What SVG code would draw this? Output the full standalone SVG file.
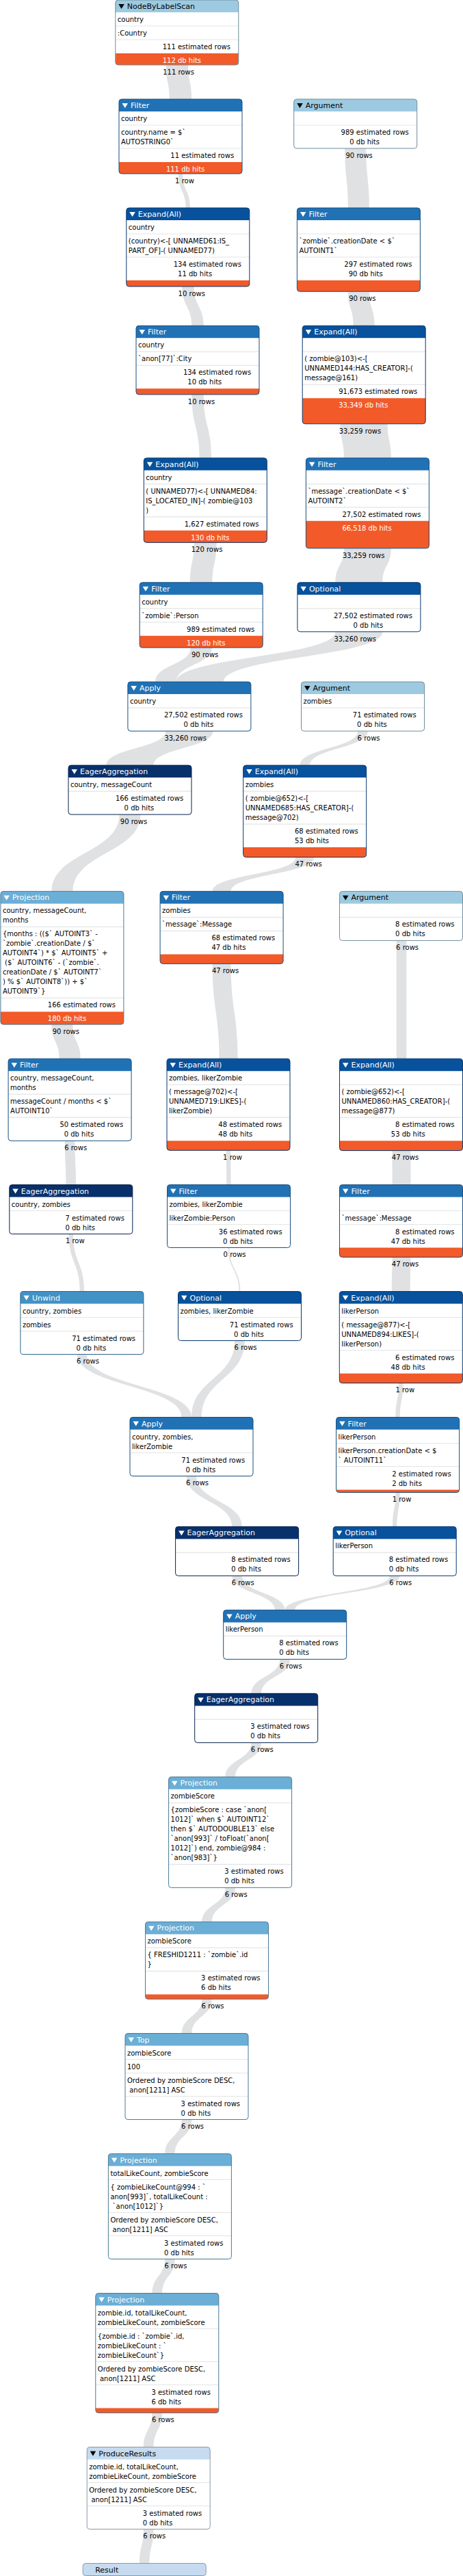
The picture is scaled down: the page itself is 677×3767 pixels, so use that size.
<svg xmlns="http://www.w3.org/2000/svg" width="677" height="3767" viewBox="0 0 677 3767">
<style>
text{font-family:"DejaVu Sans","Liberation Sans",sans-serif}
.t{font-size:10px;fill:#000}
.t.w{fill:#fff}
.ht{font-size:11px;fill:#fff}
.tr{fill:#fff}
.bg{fill:#fff}
.ol{fill:none;stroke-width:1}
.dv{stroke:#e4e5e6;stroke-width:1.2;fill:none}
.bar{fill:#f25a29}
.lk{fill:#dfe1e3}
.lb{font-size:10px;fill:#000}
.c1 .hd{fill:#c6dbef}.c1 .ol{stroke:#8a99a7}.c1 .ht,.c1 .tr{fill:#000}
.c2 .hd{fill:#9ecae1}.c2 .ol{stroke:#6e8d9d}.c2 .ht,.c2 .tr{fill:#000}
.c3 .hd{fill:#6baed6}.c3 .ol{stroke:#4b7a96}
.c4 .hd{fill:#4292c6}.c4 .ol{stroke:#2e668a}
.c5 .hd{fill:#2171b5}.c5 .ol{stroke:#174f7f}
.c6 .hd{fill:#08519c}.c6 .ol{stroke:#05386d}
.c7 .hd{fill:#08306b}.c7 .ol{stroke:#06214b}
</style>
<defs>
<path id="hdr" d="M0,18V4A4,4 0 0 1 4,0H176A4,4 0 0 1 180,4V18Z"/>
<path id="tri" d="M4.5,6H13L8.75,13Z"/>
</defs>
<g id="connectors">
<path class="lk" d="M242.6,95C242.6,120 247.8,120 247.8,145H280.2C280.2,120 275,120 275,95Z"/>
<path class="lk" d="M260.8,254C260.8,279 271.6,279 271.6,304H278C278,279 267.2,279 267.2,254Z"/>
<path class="lk" d="M504.2,217C504.2,260.5 508.9,260.5 508.9,304H539.9C539.9,260.5 535.2,260.5 535.2,217Z"/>
<path class="lk" d="M266.1,419C266.1,447.7 280.3,447.7 280.3,476.3H297.7C297.7,447.7 283.5,447.7 283.5,419Z"/>
<path class="lk" d="M508.9,426.3C508.9,451.3 516.7,451.3 516.7,476.3H547.7C547.7,451.3 539.9,451.3 539.9,426.3Z"/>
<path class="lk" d="M280.3,576.9C280.3,623.4 291.6,623.4 291.6,669.8H309C309,623.4 297.7,623.4 297.7,576.9Z"/>
<path class="lk" d="M497.7,619.8C497.7,644.8 502.9,644.8 502.9,669.8H571.9C571.9,644.8 566.7,644.8 566.7,619.8Z"/>
<path class="lk" d="M283.9,793.4C283.9,822.6 277.8,822.6 277.8,851.8H310.6C310.6,822.6 316.7,822.6 316.7,793.4Z"/>
<path class="lk" d="M502.9,801.8C502.9,826.8 490.4,826.8 490.4,851.8H559.4C559.4,826.8 571.9,826.8 571.9,801.8Z"/>
<path class="lk" d="M278.7,947.1C278.7,972.1 226.9,972.1 226.9,997.1H257.9C257.9,972.1 309.7,972.1 309.7,947.1Z"/>
<path class="lk" d="M490.4,923.8C490.4,960.5 257.9,960.5 257.9,997.1H326.9C326.9,960.5 559.4,960.5 559.4,923.8Z"/>
<path class="lk" d="M242.4,1069.1C242.4,1094.1 155.5,1094.1 155.5,1119.1H224.5C224.5,1094.1 311.4,1094.1 311.4,1069.1Z"/>
<path class="lk" d="M523.2,1069.1C523.2,1094.1 438.4,1094.1 438.4,1119.1H453C453,1094.1 537.8,1094.1 537.8,1069.1Z"/>
<path class="lk" d="M174.5,1191.1C174.5,1247.3 75.4,1247.3 75.4,1303.4H106.4C106.4,1247.3 205.5,1247.3 205.5,1191.1Z"/>
<path class="lk" d="M432.2,1253.5C432.2,1278.5 310.6,1278.5 310.6,1303.4H337.6C337.6,1278.5 459.2,1278.5 459.2,1253.5Z"/>
<path class="lk" d="M75.4,1498.1C75.4,1523.2 86.6,1523.2 86.6,1548.2H117.6C117.6,1523.2 106.4,1523.2 106.4,1498.1Z"/>
<path class="lk" d="M310.6,1409.3C310.6,1478.8 320.5,1478.8 320.5,1548.2H347.5C347.5,1478.8 337.6,1478.8 337.6,1409.3Z"/>
<path class="lk" d="M579.7,1375.4V1548.2H594.3V1375.4Z"/>
<path class="lk" d="M94.8,1668.2C94.8,1700.4 96.5,1700.4 96.5,1732.5H111.1C111.1,1700.4 109.4,1700.4 109.4,1668.2Z"/>
<path class="lk" d="M330.8,1682.2C330.8,1707.4 331.3,1707.4 331.3,1732.5H337.7C337.7,1707.4 337.2,1707.4 337.2,1682.2Z"/>
<path class="lk" d="M573.5,1682.6V1732.5H600.5V1682.6Z"/>
<path class="lk" d="M100.6,1804.5C100.6,1846.5 116.7,1846.5 116.7,1888.5H123.1C123.1,1846.5 107,1846.5 107,1804.5Z"/>
<path class="lk" d="M333.5,1824.5C333.5,1856.5 349.5,1856.5 349.5,1888.5H351.5C351.5,1856.5 335.5,1856.5 335.5,1824.5Z"/>
<path class="lk" d="M573.5,1838.4C573.5,1863.5 572.8,1863.5 572.8,1888.5H599.8C599.8,1863.5 600.5,1863.5 600.5,1838.4Z"/>
<path class="lk" d="M112.6,1980.5C112.6,2026.5 265.4,2026.5 265.4,2072.5H280C280,2026.5 127.2,2026.5 127.2,1980.5Z"/>
<path class="lk" d="M343.2,1960.5C343.2,2016.5 280,2016.5 280,2072.5H294.6C294.6,2016.5 357.8,2016.5 357.8,1960.5Z"/>
<path class="lk" d="M583.1,2022.5C583.1,2047.5 578.4,2047.5 578.4,2072.5H584.8C584.8,2047.5 589.5,2047.5 589.5,2022.5Z"/>
<path class="lk" d="M272.7,2158.5C272.7,2195.5 339.3,2195.5 339.3,2232.4H353.9C353.9,2195.5 287.3,2195.5 287.3,2158.5Z"/>
<path class="lk" d="M578.4,2182.5C578.4,2207.5 574,2207.5 574,2232.4H580.4C580.4,2207.5 584.8,2207.5 584.8,2182.5Z"/>
<path class="lk" d="M339.3,2304.4C339.3,2329.4 402.1,2329.4 402.1,2354.4H416.7C416.7,2329.4 353.9,2329.4 353.9,2304.4Z"/>
<path class="lk" d="M569.9,2304.4C569.9,2329.4 416.7,2329.4 416.7,2354.4H431.3C431.3,2329.4 584.5,2329.4 584.5,2304.4Z"/>
<path class="lk" d="M409.4,2426.4C409.4,2451.4 367.4,2451.4 367.4,2476.4H382C382,2451.4 424,2451.4 424,2426.4Z"/>
<path class="lk" d="M367.4,2548.4C367.4,2573.4 329.3,2573.4 329.3,2598.4H343.9C343.9,2573.4 382,2573.4 382,2548.4Z"/>
<path class="lk" d="M329.3,2760.4C329.3,2785.4 295.2,2785.4 295.2,2810.4H309.8C309.8,2785.4 343.9,2785.4 343.9,2760.4Z"/>
<path class="lk" d="M295.2,2923.4C295.2,2948.5 265.7,2948.5 265.7,2973.5H280.3C280.3,2948.5 309.8,2948.5 309.8,2923.4Z"/>
<path class="lk" d="M265.7,3099.5C265.7,3124.5 241.1,3124.5 241.1,3149.5H255.7C255.7,3124.5 280.3,3124.5 280.3,3099.5Z"/>
<path class="lk" d="M241.1,3303.5C241.1,3328.5 222.5,3328.5 222.5,3353.5H237.1C237.1,3328.5 255.7,3328.5 255.7,3303.5Z"/>
<path class="lk" d="M222.5,3528.5C222.5,3553.5 209.9,3553.5 209.9,3578.5H224.5C224.5,3553.5 237.1,3553.5 237.1,3528.5Z"/>
<path class="lk" d="M209.9,3698.5C209.9,3723.5 203.9,3723.5 203.9,3748.5H218.5C218.5,3723.5 224.5,3723.5 224.5,3698.5Z"/>
<text class="lb" x="238.2" y="108.7">111 rows</text>
<text class="lb" x="256.1" y="267.7">1 row</text>
<text class="lb" x="505.5" y="230.7">90 rows</text>
<text class="lb" x="260.6" y="432.7">10 rows</text>
<text class="lb" x="510.2" y="440">90 rows</text>
<text class="lb" x="274.8" y="590.6">10 rows</text>
<text class="lb" x="495.7" y="633.5">33,259 rows</text>
<text class="lb" x="279.7" y="807.1">120 rows</text>
<text class="lb" x="500.9" y="815.5">33,259 rows</text>
<text class="lb" x="280" y="960.8">90 rows</text>
<text class="lb" x="488.4" y="937.5">33,260 rows</text>
<text class="lb" x="240.4" y="1082.8">33,260 rows</text>
<text class="lb" x="522.6" y="1082.8">6 rows</text>
<text class="lb" x="175.8" y="1204.8">90 rows</text>
<text class="lb" x="431.5" y="1267.1">47 rows</text>
<text class="lb" x="76.7" y="1511.9">90 rows</text>
<text class="lb" x="309.9" y="1423.1">47 rows</text>
<text class="lb" x="579.1" y="1389.1">6 rows</text>
<text class="lb" x="94.2" y="1681.9">6 rows</text>
<text class="lb" x="326.1" y="1695.9">1 row</text>
<text class="lb" x="572.8" y="1696.2">47 rows</text>
<text class="lb" x="95.9" y="1818.2">1 row</text>
<text class="lb" x="326.6" y="1838.2">0 rows</text>
<text class="lb" x="572.8" y="1852.2">47 rows</text>
<text class="lb" x="112" y="1994.2">6 rows</text>
<text class="lb" x="342.6" y="1974.2">6 rows</text>
<text class="lb" x="578.4" y="2036.2">1 row</text>
<text class="lb" x="272.1" y="2172.2">6 rows</text>
<text class="lb" x="573.7" y="2196.1">1 row</text>
<text class="lb" x="338.7" y="2318.1">6 rows</text>
<text class="lb" x="569.3" y="2318.1">6 rows</text>
<text class="lb" x="408.8" y="2440.1">6 rows</text>
<text class="lb" x="366.8" y="2562.1">6 rows</text>
<text class="lb" x="328.7" y="2774.1">6 rows</text>
<text class="lb" x="294.6" y="2937.2">6 rows</text>
<text class="lb" x="265.1" y="3113.2">6 rows</text>
<text class="lb" x="240.5" y="3317.2">6 rows</text>
<text class="lb" x="221.9" y="3542.2">6 rows</text>
<text class="lb" x="209.3" y="3712.2">6 rows</text>
</g>

<g id="op1-NodeByLabelScan" class="c2" transform="translate(168.8,0)">
<rect class="bg" width="180" height="95.03" rx="4"/><use href="#hdr" class="hd"/><use href="#tri" class="tr"/>
<text class="ht" x="17" y="13">NodeByLabelScan</text>
<path class="dv" d="M0,38H180M0,58H180"/>
<text class="t" x="3" y="32">country</text>
<text class="t" x="3" y="52">:Country</text>
<text class="t" x="68.9" y="72">111 estimated rows</text>
<path class="bar" d="M0,78H180V91.03A4,4 0 0 1 176,95.03H4A4,4 0 0 1 0,91.03Z"/>
<text class="t w" x="68.9" y="92">112 db hits</text>
<rect class="ol" width="180" height="95.03" rx="4"/>
</g>

<g id="op2-Filter" class="c5" transform="translate(174,145)">
<rect class="bg" width="180" height="109" rx="4"/><use href="#hdr" class="hd"/><use href="#tri" class="tr"/>
<text class="ht" x="17" y="13">Filter</text>
<path class="dv" d="M0,38H180M0,72H180"/>
<text class="t" x="3" y="32">country</text>
<text class="t" x="3" y="52">country.name = $`</text>
<text class="t" x="3" y="66">AUTOSTRING0`</text>
<text class="t" x="75.3" y="86">11 estimated rows</text>
<path class="bar" d="M0,92H180V105A4,4 0 0 1 176,109H4A4,4 0 0 1 0,105Z"/>
<text class="t w" x="68.9" y="106">111 db hits</text>
<rect class="ol" width="180" height="109" rx="4"/>
</g>

<g id="op3-Argument" class="c2" transform="translate(429.7,145)">
<rect class="bg" width="180" height="72" rx="4"/><use href="#hdr" class="hd"/><use href="#tri" class="tr"/>
<text class="ht" x="17" y="13">Argument</text>
<path class="dv" d="M0,38H180"/>
<text class="t" x="68.9" y="52">989 estimated rows</text>
<text class="t" x="81.6" y="66">0 db hits</text>
<rect class="ol" width="180" height="72" rx="4"/>
</g>

<g id="op4-ExpandAll" class="c6" transform="translate(184.8,304)">
<rect class="bg" width="180" height="114.95" rx="4"/><use href="#hdr" class="hd"/><use href="#tri" class="tr"/>
<text class="ht" x="17" y="13">Expand(All)</text>
<path class="dv" d="M0,38H180M0,72H180"/>
<text class="t" x="3" y="32">country</text>
<text class="t" x="3" y="52">(country)&lt;-[ UNNAMED61:IS_</text>
<text class="t" x="3" y="66">PART_OF]-( UNNAMED77)</text>
<text class="t" x="68.9" y="86">134 estimated rows</text>
<text class="t" x="75.3" y="100">11 db hits</text>
<path class="bar" d="M0,106H180V110.95A4,4 0 0 1 176,114.95H4A4,4 0 0 1 0,110.95Z"/>
<rect class="ol" width="180" height="114.95" rx="4"/>
</g>

<g id="op5-Filter" class="c5" transform="translate(434.4,304)">
<rect class="bg" width="180" height="122.25" rx="4"/><use href="#hdr" class="hd"/><use href="#tri" class="tr"/>
<text class="ht" x="17" y="13">Filter</text>
<path class="dv" d="M0,38H180M0,72H180"/>
<text class="t" x="3" y="52">`zombie`.creationDate &lt; $`</text>
<text class="t" x="3" y="66">AUTOINT1`</text>
<text class="t" x="68.9" y="86">297 estimated rows</text>
<text class="t" x="75.3" y="100">90 db hits</text>
<path class="bar" d="M0,106H180V118.25A4,4 0 0 1 176,122.25H4A4,4 0 0 1 0,118.25Z"/>
<rect class="ol" width="180" height="122.25" rx="4"/>
</g>

<g id="op6-Filter" class="c5" transform="translate(199,476.3)">
<rect class="bg" width="180" height="100.64" rx="4"/><use href="#hdr" class="hd"/><use href="#tri" class="tr"/>
<text class="ht" x="17" y="13">Filter</text>
<path class="dv" d="M0,38H180M0,58H180"/>
<text class="t" x="3" y="32">country</text>
<text class="t" x="3" y="52">`anon[77]`:City</text>
<text class="t" x="68.9" y="72">134 estimated rows</text>
<text class="t" x="75.3" y="86">10 db hits</text>
<path class="bar" d="M0,92H180V96.64A4,4 0 0 1 176,100.64H4A4,4 0 0 1 0,96.64Z"/>
<rect class="ol" width="180" height="100.64" rx="4"/>
</g>

<g id="op7-ExpandAll" class="c6" transform="translate(442.2,476.3)">
<rect class="bg" width="180" height="143.51" rx="4"/><use href="#hdr" class="hd"/><use href="#tri" class="tr"/>
<text class="ht" x="17" y="13">Expand(All)</text>
<path class="dv" d="M0,38H180M0,86H180"/>
<text class="t" x="3" y="52">( zombie@103)&lt;-[</text>
<text class="t" x="3" y="66">UNNAMED144:HAS_CREATOR]-(</text>
<text class="t" x="3" y="80">message@161)</text>
<text class="t" x="53" y="100">91,673 estimated rows</text>
<path class="bar" d="M0,106H180V139.51A4,4 0 0 1 176,143.51H4A4,4 0 0 1 0,139.51Z"/>
<text class="t w" x="53" y="120">33,349 db hits</text>
<rect class="ol" width="180" height="143.51" rx="4"/>
</g>

<g id="op8-ExpandAll" class="c6" transform="translate(210.3,669.8)">
<rect class="bg" width="180" height="123.56" rx="4"/><use href="#hdr" class="hd"/><use href="#tri" class="tr"/>
<text class="ht" x="17" y="13">Expand(All)</text>
<path class="dv" d="M0,38H180M0,86H180"/>
<text class="t" x="3" y="32">country</text>
<text class="t" x="3" y="52">( UNNAMED77)&lt;-[ UNNAMED84:</text>
<text class="t" x="3" y="66">IS_LOCATED_IN]-( zombie@103</text>
<text class="t" x="3" y="80">)</text>
<text class="t" x="59.4" y="100">1,627 estimated rows</text>
<path class="bar" d="M0,106H180V119.56A4,4 0 0 1 176,123.56H4A4,4 0 0 1 0,119.56Z"/>
<text class="t w" x="68.9" y="120">130 db hits</text>
<rect class="ol" width="180" height="123.56" rx="4"/>
</g>

<g id="op9-Filter" class="c5" transform="translate(447.4,669.8)">
<rect class="bg" width="180" height="132" rx="4"/><use href="#hdr" class="hd"/><use href="#tri" class="tr"/>
<text class="ht" x="17" y="13">Filter</text>
<path class="dv" d="M0,38H180M0,72H180"/>
<text class="t" x="3" y="52">`message`.creationDate &lt; $`</text>
<text class="t" x="3" y="66">AUTOINT2`</text>
<text class="t" x="53" y="86">27,502 estimated rows</text>
<path class="bar" d="M0,92H180V128A4,4 0 0 1 176,132H4A4,4 0 0 1 0,128Z"/>
<text class="t w" x="53" y="106">66,518 db hits</text>
<rect class="ol" width="180" height="132" rx="4"/>
</g>

<g id="op10-Filter" class="c5" transform="translate(204.2,851.8)">
<rect class="bg" width="180" height="95.27" rx="4"/><use href="#hdr" class="hd"/><use href="#tri" class="tr"/>
<text class="ht" x="17" y="13">Filter</text>
<path class="dv" d="M0,38H180M0,58H180"/>
<text class="t" x="3" y="32">country</text>
<text class="t" x="3" y="52">`zombie`:Person</text>
<text class="t" x="68.9" y="72">989 estimated rows</text>
<path class="bar" d="M0,78H180V91.27A4,4 0 0 1 176,95.27H4A4,4 0 0 1 0,91.27Z"/>
<text class="t w" x="68.9" y="92">120 db hits</text>
<rect class="ol" width="180" height="95.27" rx="4"/>
</g>

<g id="op11-Optional" class="c6" transform="translate(434.9,851.8)">
<rect class="bg" width="180" height="72" rx="4"/><use href="#hdr" class="hd"/><use href="#tri" class="tr"/>
<text class="ht" x="17" y="13">Optional</text>
<path class="dv" d="M0,38H180"/>
<text class="t" x="53" y="52">27,502 estimated rows</text>
<text class="t" x="81.6" y="66">0 db hits</text>
<rect class="ol" width="180" height="72" rx="4"/>
</g>

<g id="op12-Apply" class="c5" transform="translate(186.9,997.1)">
<rect class="bg" width="180" height="72" rx="4"/><use href="#hdr" class="hd"/><use href="#tri" class="tr"/>
<text class="ht" x="17" y="13">Apply</text>
<path class="dv" d="M0,38H180"/>
<text class="t" x="3" y="32">country</text>
<text class="t" x="53" y="52">27,502 estimated rows</text>
<text class="t" x="81.6" y="66">0 db hits</text>
<rect class="ol" width="180" height="72" rx="4"/>
</g>

<g id="op13-Argument" class="c2" transform="translate(440.5,997.1)">
<rect class="bg" width="180" height="72" rx="4"/><use href="#hdr" class="hd"/><use href="#tri" class="tr"/>
<text class="ht" x="17" y="13">Argument</text>
<path class="dv" d="M0,38H180"/>
<text class="t" x="3" y="32">zombies</text>
<text class="t" x="75.3" y="52">71 estimated rows</text>
<text class="t" x="81.6" y="66">0 db hits</text>
<rect class="ol" width="180" height="72" rx="4"/>
</g>

<g id="op14-EagerAggregation" class="c7" transform="translate(100,1119.1)">
<rect class="bg" width="180" height="72" rx="4"/><use href="#hdr" class="hd"/><use href="#tri" class="tr"/>
<text class="ht" x="17" y="13">EagerAggregation</text>
<path class="dv" d="M0,38H180"/>
<text class="t" x="3" y="32">country, messageCount</text>
<text class="t" x="68.9" y="52">166 estimated rows</text>
<text class="t" x="81.6" y="66">0 db hits</text>
<rect class="ol" width="180" height="72" rx="4"/>
</g>

<g id="op15-ExpandAll" class="c6" transform="translate(355.7,1119.1)">
<rect class="bg" width="180" height="134.37" rx="4"/><use href="#hdr" class="hd"/><use href="#tri" class="tr"/>
<text class="ht" x="17" y="13">Expand(All)</text>
<path class="dv" d="M0,38H180M0,86H180"/>
<text class="t" x="3" y="32">zombies</text>
<text class="t" x="3" y="52">( zombie@652)&lt;-[</text>
<text class="t" x="3" y="66">UNNAMED685:HAS_CREATOR]-(</text>
<text class="t" x="3" y="80">message@702)</text>
<text class="t" x="75.3" y="100">68 estimated rows</text>
<text class="t" x="75.3" y="114">53 db hits</text>
<path class="bar" d="M0,120H180V130.37A4,4 0 0 1 176,134.37H4A4,4 0 0 1 0,130.37Z"/>
<rect class="ol" width="180" height="134.37" rx="4"/>
</g>

<g id="op16-Projection" class="c3" transform="translate(0.9,1303.4)">
<rect class="bg" width="180" height="194.72" rx="4"/><use href="#hdr" class="hd"/><use href="#tri" class="tr"/>
<text class="ht" x="17" y="13">Projection</text>
<path class="dv" d="M0,52H180M0,156H180"/>
<text class="t" x="3" y="32">country, messageCount,</text>
<text class="t" x="3" y="46">months</text>
<text class="t" x="3" y="66">{months : (($` AUTOINT3` -</text>
<text class="t" x="3" y="80">`zombie`.creationDate / $`</text>
<text class="t" x="3" y="94">AUTOINT4`) * $` AUTOINT5` +</text>
<text class="t" x="3" y="108" xml:space="preserve"> ($` AUTOINT6` - (`zombie`.</text>
<text class="t" x="3" y="122">creationDate / $` AUTOINT7`</text>
<text class="t" x="3" y="136">) % $` AUTOINT8`)) + $`</text>
<text class="t" x="3" y="150">AUTOINT9`}</text>
<text class="t" x="68.9" y="170">166 estimated rows</text>
<path class="bar" d="M0,176H180V190.72A4,4 0 0 1 176,194.72H4A4,4 0 0 1 0,190.72Z"/>
<text class="t w" x="68.9" y="190">180 db hits</text>
<rect class="ol" width="180" height="194.72" rx="4"/>
</g>

<g id="op17-Filter" class="c5" transform="translate(234.1,1303.4)">
<rect class="bg" width="180" height="105.94" rx="4"/><use href="#hdr" class="hd"/><use href="#tri" class="tr"/>
<text class="ht" x="17" y="13">Filter</text>
<path class="dv" d="M0,38H180M0,58H180"/>
<text class="t" x="3" y="32">zombies</text>
<text class="t" x="3" y="52">`message`:Message</text>
<text class="t" x="75.3" y="72">68 estimated rows</text>
<text class="t" x="75.3" y="86">47 db hits</text>
<path class="bar" d="M0,92H180V101.94A4,4 0 0 1 176,105.94H4A4,4 0 0 1 0,101.94Z"/>
<rect class="ol" width="180" height="105.94" rx="4"/>
</g>

<g id="op18-Argument" class="c2" transform="translate(496.5,1303.4)">
<rect class="bg" width="180" height="72" rx="4"/><use href="#hdr" class="hd"/><use href="#tri" class="tr"/>
<text class="ht" x="17" y="13">Argument</text>
<path class="dv" d="M0,38H180"/>
<text class="t" x="81.6" y="52">8 estimated rows</text>
<text class="t" x="81.6" y="66">0 db hits</text>
<rect class="ol" width="180" height="72" rx="4"/>
</g>

<g id="op19-Filter" class="c5" transform="translate(12.1,1548.2)">
<rect class="bg" width="180" height="120" rx="4"/><use href="#hdr" class="hd"/><use href="#tri" class="tr"/>
<text class="ht" x="17" y="13">Filter</text>
<path class="dv" d="M0,52H180M0,86H180"/>
<text class="t" x="3" y="32">country, messageCount,</text>
<text class="t" x="3" y="46">months</text>
<text class="t" x="3" y="66">messageCount / months &lt; $`</text>
<text class="t" x="3" y="80">AUTOINT10`</text>
<text class="t" x="75.3" y="100">50 estimated rows</text>
<text class="t" x="81.6" y="114">0 db hits</text>
<rect class="ol" width="180" height="120" rx="4"/>
</g>

<g id="op20-ExpandAll" class="c6" transform="translate(244,1548.2)">
<rect class="bg" width="180" height="134.02" rx="4"/><use href="#hdr" class="hd"/><use href="#tri" class="tr"/>
<text class="ht" x="17" y="13">Expand(All)</text>
<path class="dv" d="M0,38H180M0,86H180"/>
<text class="t" x="3" y="32">zombies, likerZombie</text>
<text class="t" x="3" y="52">( message@702)&lt;-[</text>
<text class="t" x="3" y="66">UNNAMED719:LIKES]-(</text>
<text class="t" x="3" y="80">likerZombie)</text>
<text class="t" x="75.3" y="100">48 estimated rows</text>
<text class="t" x="75.3" y="114">48 db hits</text>
<path class="bar" d="M0,120H180V130.02A4,4 0 0 1 176,134.02H4A4,4 0 0 1 0,130.02Z"/>
<rect class="ol" width="180" height="134.02" rx="4"/>
</g>

<g id="op21-ExpandAll" class="c6" transform="translate(496.5,1548.2)">
<rect class="bg" width="180" height="134.37" rx="4"/><use href="#hdr" class="hd"/><use href="#tri" class="tr"/>
<text class="ht" x="17" y="13">Expand(All)</text>
<path class="dv" d="M0,38H180M0,86H180"/>
<text class="t" x="3" y="52">( zombie@652)&lt;-[</text>
<text class="t" x="3" y="66">UNNAMED860:HAS_CREATOR]-(</text>
<text class="t" x="3" y="80">message@877)</text>
<text class="t" x="81.6" y="100">8 estimated rows</text>
<text class="t" x="75.3" y="114">53 db hits</text>
<path class="bar" d="M0,120H180V130.37A4,4 0 0 1 176,134.37H4A4,4 0 0 1 0,130.37Z"/>
<rect class="ol" width="180" height="134.37" rx="4"/>
</g>

<g id="op22-EagerAggregation" class="c7" transform="translate(13.8,1732.5)">
<rect class="bg" width="180" height="72" rx="4"/><use href="#hdr" class="hd"/><use href="#tri" class="tr"/>
<text class="ht" x="17" y="13">EagerAggregation</text>
<path class="dv" d="M0,38H180"/>
<text class="t" x="3" y="32">country, zombies</text>
<text class="t" x="81.6" y="52">7 estimated rows</text>
<text class="t" x="81.6" y="66">0 db hits</text>
<rect class="ol" width="180" height="72" rx="4"/>
</g>

<g id="op23-Filter" class="c5" transform="translate(244.5,1732.5)">
<rect class="bg" width="180" height="92" rx="4"/><use href="#hdr" class="hd"/><use href="#tri" class="tr"/>
<text class="ht" x="17" y="13">Filter</text>
<path class="dv" d="M0,38H180M0,58H180"/>
<text class="t" x="3" y="32">zombies, likerZombie</text>
<text class="t" x="3" y="52">likerZombie:Person</text>
<text class="t" x="75.3" y="72">36 estimated rows</text>
<text class="t" x="81.6" y="86">0 db hits</text>
<rect class="ol" width="180" height="92" rx="4"/>
</g>

<g id="op24-Filter" class="c5" transform="translate(496.5,1732.5)">
<rect class="bg" width="180" height="105.94" rx="4"/><use href="#hdr" class="hd"/><use href="#tri" class="tr"/>
<text class="ht" x="17" y="13">Filter</text>
<path class="dv" d="M0,38H180M0,58H180"/>
<text class="t" x="3" y="52">`message`:Message</text>
<text class="t" x="81.6" y="72">8 estimated rows</text>
<text class="t" x="75.3" y="86">47 db hits</text>
<path class="bar" d="M0,92H180V101.94A4,4 0 0 1 176,105.94H4A4,4 0 0 1 0,101.94Z"/>
<rect class="ol" width="180" height="105.94" rx="4"/>
</g>

<g id="op25-Unwind" class="c4" transform="translate(29.9,1888.5)">
<rect class="bg" width="180" height="92" rx="4"/><use href="#hdr" class="hd"/><use href="#tri" class="tr"/>
<text class="ht" x="17" y="13">Unwind</text>
<path class="dv" d="M0,38H180M0,58H180"/>
<text class="t" x="3" y="32">country, zombies</text>
<text class="t" x="3" y="52">zombies</text>
<text class="t" x="75.3" y="72">71 estimated rows</text>
<text class="t" x="81.6" y="86">0 db hits</text>
<rect class="ol" width="180" height="92" rx="4"/>
</g>

<g id="op26-Optional" class="c6" transform="translate(260.5,1888.5)">
<rect class="bg" width="180" height="72" rx="4"/><use href="#hdr" class="hd"/><use href="#tri" class="tr"/>
<text class="ht" x="17" y="13">Optional</text>
<path class="dv" d="M0,38H180"/>
<text class="t" x="3" y="32">zombies, likerZombie</text>
<text class="t" x="75.3" y="52">71 estimated rows</text>
<text class="t" x="81.6" y="66">0 db hits</text>
<rect class="ol" width="180" height="72" rx="4"/>
</g>

<g id="op27-ExpandAll" class="c6" transform="translate(496.3,1888.5)">
<rect class="bg" width="180" height="134.02" rx="4"/><use href="#hdr" class="hd"/><use href="#tri" class="tr"/>
<text class="ht" x="17" y="13">Expand(All)</text>
<path class="dv" d="M0,38H180M0,86H180"/>
<text class="t" x="3" y="32">likerPerson</text>
<text class="t" x="3" y="52">( message@877)&lt;-[</text>
<text class="t" x="3" y="66">UNNAMED894:LIKES]-(</text>
<text class="t" x="3" y="80">likerPerson)</text>
<text class="t" x="81.6" y="100">6 estimated rows</text>
<text class="t" x="75.3" y="114">48 db hits</text>
<path class="bar" d="M0,120H180V130.02A4,4 0 0 1 176,134.02H4A4,4 0 0 1 0,130.02Z"/>
<rect class="ol" width="180" height="134.02" rx="4"/>
</g>

<g id="op28-Apply" class="c5" transform="translate(190,2072.5)">
<rect class="bg" width="180" height="86" rx="4"/><use href="#hdr" class="hd"/><use href="#tri" class="tr"/>
<text class="ht" x="17" y="13">Apply</text>
<path class="dv" d="M0,52H180"/>
<text class="t" x="3" y="32">country, zombies,</text>
<text class="t" x="3" y="46">likerZombie</text>
<text class="t" x="75.3" y="66">71 estimated rows</text>
<text class="t" x="81.6" y="80">0 db hits</text>
<rect class="ol" width="180" height="86" rx="4"/>
</g>

<g id="op29-Filter" class="c5" transform="translate(491.6,2072.5)">
<rect class="bg" width="180" height="109.96" rx="4"/><use href="#hdr" class="hd"/><use href="#tri" class="tr"/>
<text class="ht" x="17" y="13">Filter</text>
<path class="dv" d="M0,38H180M0,72H180"/>
<text class="t" x="3" y="32">likerPerson</text>
<text class="t" x="3" y="52">likerPerson.creationDate &lt; $</text>
<text class="t" x="3" y="66">` AUTOINT11`</text>
<text class="t" x="81.6" y="86">2 estimated rows</text>
<text class="t" x="81.6" y="100">2 db hits</text>
<path class="bar" d="M0,106H180A4,4 0 0 1 176,109.96H4A4,4 0 0 1 0,106Z"/>
<rect class="ol" width="180" height="109.96" rx="4"/>
</g>

<g id="op30-EagerAggregation" class="c7" transform="translate(256.6,2232.4)">
<rect class="bg" width="180" height="72" rx="4"/><use href="#hdr" class="hd"/><use href="#tri" class="tr"/>
<text class="ht" x="17" y="13">EagerAggregation</text>
<path class="dv" d="M0,38H180"/>
<text class="t" x="81.6" y="52">8 estimated rows</text>
<text class="t" x="81.6" y="66">0 db hits</text>
<rect class="ol" width="180" height="72" rx="4"/>
</g>

<g id="op31-Optional" class="c6" transform="translate(487.2,2232.4)">
<rect class="bg" width="180" height="72" rx="4"/><use href="#hdr" class="hd"/><use href="#tri" class="tr"/>
<text class="ht" x="17" y="13">Optional</text>
<path class="dv" d="M0,38H180"/>
<text class="t" x="3" y="32">likerPerson</text>
<text class="t" x="81.6" y="52">8 estimated rows</text>
<text class="t" x="81.6" y="66">0 db hits</text>
<rect class="ol" width="180" height="72" rx="4"/>
</g>

<g id="op32-Apply" class="c5" transform="translate(326.7,2354.4)">
<rect class="bg" width="180" height="72" rx="4"/><use href="#hdr" class="hd"/><use href="#tri" class="tr"/>
<text class="ht" x="17" y="13">Apply</text>
<path class="dv" d="M0,38H180"/>
<text class="t" x="3" y="32">likerPerson</text>
<text class="t" x="81.6" y="52">8 estimated rows</text>
<text class="t" x="81.6" y="66">0 db hits</text>
<rect class="ol" width="180" height="72" rx="4"/>
</g>

<g id="op33-EagerAggregation" class="c7" transform="translate(284.7,2476.4)">
<rect class="bg" width="180" height="72" rx="4"/><use href="#hdr" class="hd"/><use href="#tri" class="tr"/>
<text class="ht" x="17" y="13">EagerAggregation</text>
<path class="dv" d="M0,38H180"/>
<text class="t" x="81.6" y="52">3 estimated rows</text>
<text class="t" x="81.6" y="66">0 db hits</text>
<rect class="ol" width="180" height="72" rx="4"/>
</g>

<g id="op34-Projection" class="c3" transform="translate(246.6,2598.4)">
<rect class="bg" width="180" height="162" rx="4"/><use href="#hdr" class="hd"/><use href="#tri" class="tr"/>
<text class="ht" x="17" y="13">Projection</text>
<path class="dv" d="M0,38H180M0,128H180"/>
<text class="t" x="3" y="32">zombieScore</text>
<text class="t" x="3" y="52">{zombieScore : case `anon[</text>
<text class="t" x="3" y="66">1012]` when $` AUTOINT12`</text>
<text class="t" x="3" y="80">then $` AUTODOUBLE13` else</text>
<text class="t" x="3" y="94">`anon[993]` / toFloat(`anon[</text>
<text class="t" x="3" y="108">1012]`) end, zombie@984 :</text>
<text class="t" x="3" y="122">`anon[983]`}</text>
<text class="t" x="81.6" y="142">3 estimated rows</text>
<text class="t" x="81.6" y="156">0 db hits</text>
<rect class="ol" width="180" height="162" rx="4"/>
</g>

<g id="op35-Projection" class="c3" transform="translate(212.5,2810.4)">
<rect class="bg" width="180" height="113.01" rx="4"/><use href="#hdr" class="hd"/><use href="#tri" class="tr"/>
<text class="ht" x="17" y="13">Projection</text>
<path class="dv" d="M0,38H180M0,72H180"/>
<text class="t" x="3" y="32">zombieScore</text>
<text class="t" x="3" y="52">{ FRESHID1211 : `zombie`.id</text>
<text class="t" x="3" y="66">}</text>
<text class="t" x="81.6" y="86">3 estimated rows</text>
<text class="t" x="81.6" y="100">6 db hits</text>
<path class="bar" d="M0,106H180V109.01A4,4 0 0 1 176,113.01H4A4,4 0 0 1 0,109.01Z"/>
<rect class="ol" width="180" height="113.01" rx="4"/>
</g>

<g id="op36-Top" class="c3" transform="translate(183,2973.5)">
<rect class="bg" width="180" height="126" rx="4"/><use href="#hdr" class="hd"/><use href="#tri" class="tr"/>
<text class="ht" x="17" y="13">Top</text>
<path class="dv" d="M0,38H180M0,58H180M0,92H180"/>
<text class="t" x="3" y="32">zombieScore</text>
<text class="t" x="3" y="52">100</text>
<text class="t" x="3" y="72">Ordered by zombieScore DESC,</text>
<text class="t" x="3" y="86" xml:space="preserve"> anon[1211] ASC</text>
<text class="t" x="81.6" y="106">3 estimated rows</text>
<text class="t" x="81.6" y="120">0 db hits</text>
<rect class="ol" width="180" height="126" rx="4"/>
</g>

<g id="op37-Projection" class="c3" transform="translate(158.4,3149.5)">
<rect class="bg" width="180" height="154" rx="4"/><use href="#hdr" class="hd"/><use href="#tri" class="tr"/>
<text class="ht" x="17" y="13">Projection</text>
<path class="dv" d="M0,38H180M0,86H180M0,120H180"/>
<text class="t" x="3" y="32">totalLikeCount, zombieScore</text>
<text class="t" x="3" y="52">{ zombieLikeCount@994 : `</text>
<text class="t" x="3" y="66">anon[993]`, totalLikeCount :</text>
<text class="t" x="3" y="80" xml:space="preserve"> `anon[1012]`}</text>
<text class="t" x="3" y="100">Ordered by zombieScore DESC,</text>
<text class="t" x="3" y="114" xml:space="preserve"> anon[1211] ASC</text>
<text class="t" x="81.6" y="134">3 estimated rows</text>
<text class="t" x="81.6" y="148">0 db hits</text>
<rect class="ol" width="180" height="154" rx="4"/>
</g>

<g id="op38-Projection" class="c3" transform="translate(139.8,3353.5)">
<rect class="bg" width="180" height="175.01" rx="4"/><use href="#hdr" class="hd"/><use href="#tri" class="tr"/>
<text class="ht" x="17" y="13">Projection</text>
<path class="dv" d="M0,52H180M0,100H180M0,134H180"/>
<text class="t" x="3" y="32">zombie.id, totalLikeCount,</text>
<text class="t" x="3" y="46">zombieLikeCount, zombieScore</text>
<text class="t" x="3" y="66">{zombie.id : `zombie`.id,</text>
<text class="t" x="3" y="80">zombieLikeCount : `</text>
<text class="t" x="3" y="94">zombieLikeCount`}</text>
<text class="t" x="3" y="114">Ordered by zombieScore DESC,</text>
<text class="t" x="3" y="128" xml:space="preserve"> anon[1211] ASC</text>
<text class="t" x="81.6" y="148">3 estimated rows</text>
<text class="t" x="81.6" y="162">6 db hits</text>
<path class="bar" d="M0,168H180V171.01A4,4 0 0 1 176,175.01H4A4,4 0 0 1 0,171.01Z"/>
<rect class="ol" width="180" height="175.01" rx="4"/>
</g>

<g id="op39-ProduceResults" class="c1" transform="translate(127.2,3578.5)">
<rect class="bg" width="180" height="120" rx="4"/><use href="#hdr" class="hd"/><use href="#tri" class="tr"/>
<text class="ht" x="17" y="13">ProduceResults</text>
<path class="dv" d="M0,52H180M0,86H180"/>
<text class="t" x="3" y="32">zombie.id, totalLikeCount,</text>
<text class="t" x="3" y="46">zombieLikeCount, zombieScore</text>
<text class="t" x="3" y="66">Ordered by zombieScore DESC,</text>
<text class="t" x="3" y="80" xml:space="preserve"> anon[1211] ASC</text>
<text class="t" x="81.6" y="100">3 estimated rows</text>
<text class="t" x="81.6" y="114">0 db hits</text>
<rect class="ol" width="180" height="120" rx="4"/>
</g>

<g id="op40-Result" class="c1" transform="translate(121.2,3748.5)">
<rect class="hd" width="180" height="18" rx="4"/>
<text class="ht" x="18" y="13">Result</text>
<rect class="ol" width="180" height="18" rx="4"/>
</g>
</svg>
